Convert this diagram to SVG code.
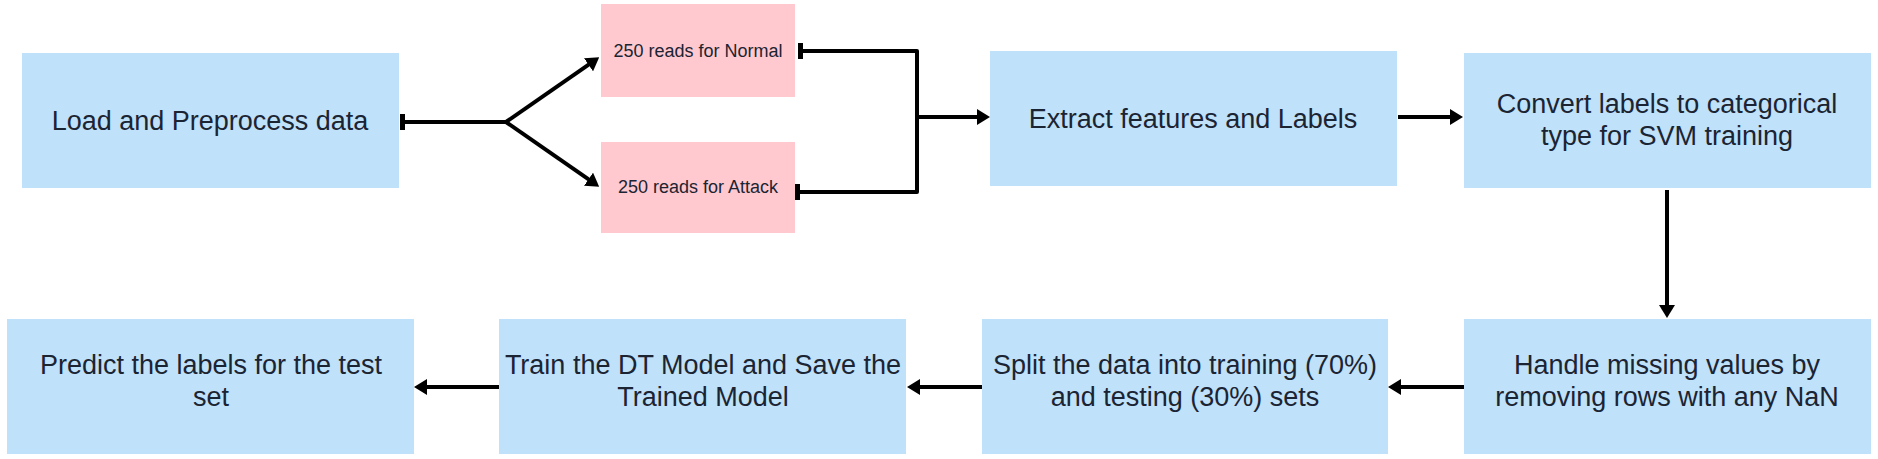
<svg xmlns="http://www.w3.org/2000/svg" width="1878" height="459" viewBox="0 0 1878 459">
<style>
.blue{fill:#BFE1FA}
.pink{fill:#FFC9CF}
.t{font-family:"Liberation Sans",Arial,sans-serif;font-size:27px;fill:#1B2433;text-anchor:middle;dominant-baseline:central}
.s{font-family:"Liberation Sans",Arial,sans-serif;font-size:18px;fill:#1B2433;text-anchor:middle;dominant-baseline:central}
.c{fill:none;stroke:#000;stroke-width:4;stroke-linejoin:round}
.a{marker-end:url(#arrow)}
</style>
<defs>
<marker id="arrow" markerUnits="userSpaceOnUse" viewBox="0 0 13 16" markerWidth="13" markerHeight="16" refX="5" refY="8" orient="auto">
<path d="M0,0 L13,8 L0,16 z" fill="#000"/>
</marker>
<marker id="tee" markerUnits="userSpaceOnUse" viewBox="0 0 5 16" markerWidth="5" markerHeight="16" refX="1" refY="8" orient="auto">
<rect x="0" y="0" width="5" height="16" fill="#000"/>
</marker>
</defs>
<rect width="1878" height="459" fill="#fff"/>
<g id="n-load"><rect class="blue" x="22" y="53" width="377" height="135"/><text class="t" x="210" y="121">Load and Preprocess data</text></g>
<g id="n-normal"><rect class="pink" x="601" y="4" width="194" height="93"/><text class="s" x="698" y="51">250 reads for Normal</text></g>
<g id="n-attack"><rect class="pink" x="601" y="142" width="194" height="91"/><text class="s" x="698" y="187">250 reads for Attack</text></g>
<g id="n-extract"><rect class="blue" x="990" y="51" width="407" height="135"/><text class="t" x="1193" y="119">Extract features and Labels</text></g>
<g id="n-convert"><rect class="blue" x="1464" y="53" width="407" height="135"/><text class="t" x="1667" y="104">Convert labels to categorical</text><text class="t" x="1667" y="136">type for SVM training</text></g>
<g id="n-handle"><rect class="blue" x="1464" y="319" width="407" height="135"/><text class="t" x="1667" y="365">Handle missing values by</text><text class="t" x="1667" y="397">removing rows with any NaN</text></g>
<g id="n-split"><rect class="blue" x="982" y="319" width="406" height="135"/><text class="t" x="1185" y="365">Split the data into training (70%)</text><text class="t" x="1185" y="397">and testing (30%) sets</text></g>
<g id="n-train"><rect class="blue" x="499" y="319" width="407" height="135"/><text class="t" x="703" y="365">Train the DT Model and Save the</text><text class="t" x="703" y="397">Trained Model</text></g>
<g id="n-predict"><rect class="blue" x="7" y="319" width="407" height="135"/><text class="t" x="211" y="365">Predict the labels for the test</text><text class="t" x="211" y="397">set</text></g>
<g id="connectors">
<path class="c" d="M401,122 L506,122" marker-start="url(#tee)"/>
<path class="c a" d="M506,122 L592.6,61.9"/>
<path class="c a" d="M506,122 L592.6,182.1"/>
<path class="c" d="M799,51 L917,51 L917,192 L799,192" marker-start="url(#tee)" marker-end="url(#tee)"/>
<path class="c a" d="M917,117 L982,117"/>
<path class="c a" d="M1398,117 L1455,117"/>
<path class="c a" d="M1667,190 L1667,310"/>
<path class="c a" d="M1464,387 L1396,387"/>
<path class="c a" d="M982,387 L915,387"/>
<path class="c a" d="M499,387 L422,387"/>
</g>
</svg>
